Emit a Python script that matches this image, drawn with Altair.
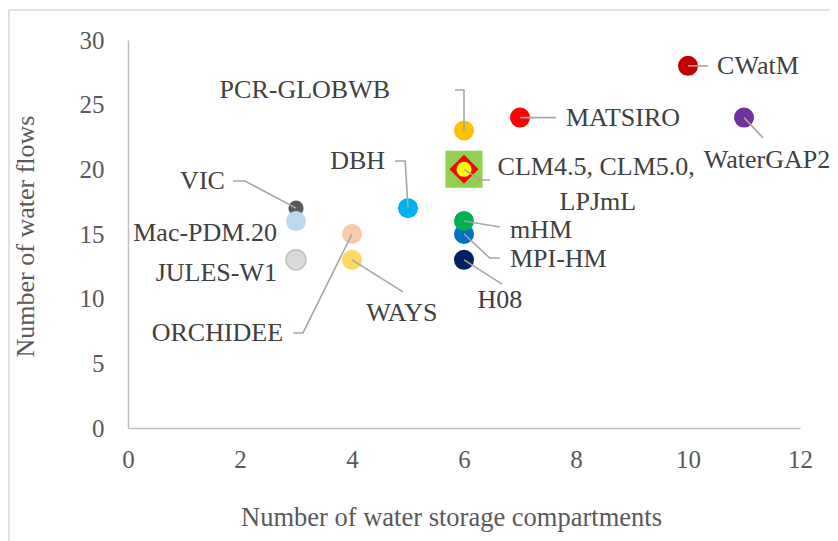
import altair as alt
import pandas as pd

# ---- data -------------------------------------------------------------
models = ["CWatM", "MATSIRO", "WaterGAP2", "PCR-GLOBWB", "DBH", "VIC", "Mac-PDM.20",
          "JULES-W1", "ORCHIDEE", "WAYS", "MPI-HM", "mHM", "H08"]
storage = [10, 7, 11, 6, 5, 3, 3, 3, 4, 4, 6, 6, 6]
flows = [28, 24, 24, 23, 17, 17, 16, 13, 15, 13, 15, 16, 13]
fills = ["#C00000", "#FF0000", "#7030A0", "#FFC000", "#00B0F0", "#595959", "#BDD7EE",
         "#D9D9D9", "#F8CBAD", "#FFD966", "#0070C0", "#00B050", "#002060"]

# combined marker for CLM4.5, CLM5.0 and LPJmL
clm_storage = 6
clm_flows = 20

# label annotations (data coordinates)
label_text = ["CWatM", "MATSIRO", "WaterGAP2", "PCR-GLOBWB", "CLM4.5, CLM5.0,", "LPJmL",
              "DBH", "VIC", "Mac-PDM.20", "JULES-W1", "ORCHIDEE", "WAYS", "mHM",
              "MPI-HM", "H08"]
label_x = [10.52, 7.82, 11.41, 4.68, 8.36, 8.39, 4.59, 1.73, 2.66, 2.66, 2.77, 4.89,
           6.82, 6.82, 6.64]
label_y = [28.0, 24.0, 20.72, 26.13, 20.2, 17.5, 20.65, 19.1, 15.08, 11.99, 7.35,
           8.89, 15.3, 13.1, 9.9]
label_align = ["left", "left", "center", "right", "center", "center", "right", "right",
               "right", "right", "right", "center", "left", "left", "center"]

# leader lines: (name, [(x, y), ...])
leaders = [
    ("CWatM", [(10, 28), (10.36, 28)]),
    ("MATSIRO", [(7, 24), (7.64, 24)]),
    ("WaterGAP2", [(11, 24), (11.34, 22.43)]),
    ("PCR-GLOBWB", [(5.84, 26.13), (6.0, 26.13), (6.0, 23)]),
    ("CLM", [(6, 20), (6.29, 19.18), (6.46, 19.18)]),
    ("DBH", [(4.77, 20.65), (4.95, 20.65), (5.0, 17)]),
    ("VIC", [(1.875, 19.1), (2.09, 19.1), (3, 17)]),
    ("ORCHIDEE", [(2.95, 7.35), (3.125, 7.35), (4, 15)]),
    ("WAYS", [(4, 13), (4.91, 10.52)]),
    ("mHM", [(6, 16), (6.64, 15.54)]),
    ("MPI-HM", [(6, 15), (6.46, 13.14), (6.64, 13.14)]),
    ("H08", [(6, 13), (6.68, 11.13)]),
]

x_ticks = [0, 2, 4, 6, 8, 10, 12]
y_ticks = [0, 5, 10, 15, 20, 25, 30]

# ---- frames -----------------------------------------------------------
pts = pd.DataFrame({"model": models, "storage": storage, "flows": flows, "fill": fills})
pts["order"] = range(len(pts))
clm = pd.DataFrame({"storage": [clm_storage], "flows": [clm_flows]})
labels = pd.DataFrame({"text": label_text, "x": label_x, "y": label_y, "align": label_align})
rows = []
for name, path in leaders:
    for i, (lx, ly) in enumerate(path):
        rows.append({"name": name, "seq": i, "x": lx, "y": ly})
lead = pd.DataFrame(rows)

FONT = "Liberation Serif"
TXT = "#404040"

xscale = alt.Scale(domain=[0, 12], nice=False)
yscale = alt.Scale(domain=[0, 30], nice=False)

xenc = alt.X("storage:Q", scale=xscale,
             axis=alt.Axis(values=x_ticks, format="d", title="Number of water storage compartments",
                           grid=False, ticks=False, labelPadding=19, labelFlush=False,
                           titleX=323, titleY=89, titleAlign="center", titleBaseline="middle",
                           domainColor="#BFBFBF", domainWidth=1.5,
                           labelFont=FONT, labelFontSize=25, labelColor="#595959",
                           titleFont=FONT, titleFontSize=26.5, titleColor="#595959",
                           titleFontWeight="normal"))
yenc = alt.Y("flows:Q", scale=yscale,
             axis=alt.Axis(values=y_ticks, format="d", title="Number of water flows",
                           grid=False, ticks=False, labelPadding=24, labelFlush=False,
                           titleX=-103, titleY=196, titleAlign="center", titleBaseline="middle",
                           titleAngle=270,
                           domainColor="#BFBFBF", domainWidth=1.5,
                           labelFont=FONT, labelFontSize=25, labelColor="#595959",
                           titleFont=FONT, titleFontSize=26, titleColor="#595959",
                           titleFontWeight="normal"))

points = alt.Chart(pts).mark_point(filled=True, opacity=1, shape="circle").encode(
    x=xenc, y=yenc,
    fill=alt.Fill("fill:N", scale=None),
    stroke=alt.condition(alt.datum.model == "JULES-W1", alt.value("#BFBFBF"), alt.value(None)),
    strokeWidth=alt.value(1.5),
    size=alt.condition(alt.datum.model == "VIC", alt.value(230), alt.value(400)),
    order=alt.Order("order:Q"),
)

sq = alt.Chart(clm).mark_point(shape="square", filled=True, opacity=1, size=1369,
                               color="#92D050").encode(
    x=alt.X("storage:Q", scale=xscale), y=alt.Y("flows:Q", scale=yscale))
dia = alt.Chart(clm).mark_point(shape="diamond", filled=True, opacity=1, size=841,
                                color="#FF0000").encode(
    x=alt.X("storage:Q", scale=xscale), y=alt.Y("flows:Q", scale=yscale))
circ = alt.Chart(clm).mark_point(shape="circle", filled=True, opacity=1, size=225,
                                 color="#FFFF00").encode(
    x=alt.X("storage:Q", scale=xscale), y=alt.Y("flows:Q", scale=yscale))

lines = alt.Chart(lead).mark_line(color="#A6A6A6", strokeWidth=1.6).encode(
    x=alt.X("x:Q", scale=xscale), y=alt.Y("y:Q", scale=yscale),
    detail="name:N", order=alt.Order("seq:Q"))

text_layers = []
for a in ["left", "right", "center"]:
    text_layers.append(
        alt.Chart(labels).transform_filter(alt.datum.align == a).mark_text(
            align=a, baseline="middle", font=FONT, fontSize=26, color=TXT).encode(
            x=alt.X("x:Q", scale=xscale), y=alt.Y("y:Q", scale=yscale), text="text:N"))

# outer chart frame (left and top edges)
frame_left = alt.Chart(clm).mark_rule(color="#D9D9D9", strokeWidth=1.5).encode(
    x=alt.value(-119), y=alt.value(-30), y2=alt.value(501))
frame_top = alt.Chart(clm).mark_rule(color="#D9D9D9", strokeWidth=1.5).encode(
    x=alt.value(-119), x2=alt.value(710), y=alt.value(-30))

chart = alt.layer(frame_left, frame_top, points, sq, dia, circ, lines, *text_layers).properties(
    width=672, height=388,
    autosize=alt.AutoSizeParams(type="none"),
    padding={"left": 120, "top": 32, "right": 30, "bottom": 113},
    background="white",
).configure_view(stroke=None)

chart.save("out.html", embed_options={"renderer": "svg", "actions": False})
